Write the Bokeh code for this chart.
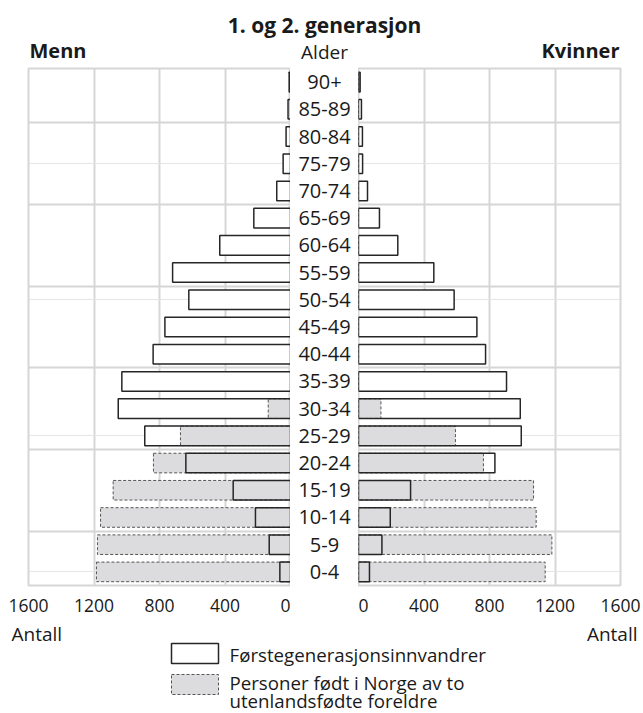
from bokeh.plotting import figure
from bokeh.models import Range1d, FixedTicker, Grid, ColumnDataSource
from bokeh.layouts import column, row
from bokeh.embed import file_html
from bokeh.resources import INLINE
from bokeh.core.properties import value

# ---------------- data ----------------
ages = ["0-4", "5-9", "10-14", "15-19", "20-24", "25-29", "30-34", "35-39",
        "40-44", "45-49", "50-54", "55-59", "60-64", "65-69", "70-74",
        "75-79", "80-84", "85-89", "90+"]
men_first = [65, 130, 214, 350, 639, 890, 1052, 1030, 839, 767, 621, 720,
             432, 224, 84, 45, 27, 15, 8]
men_second = [1185, 1179, 1160, 1083, 837, 672, 136, 0, 0, 0, 0, 0,
              0, 0, 0, 0, 0, 0, 0]
women_first = [67, 143, 194, 318, 833, 994, 988, 904, 776, 723, 584, 460,
               240, 128, 55, 25, 24, 18, 10]
women_second = [1140, 1181, 1085, 1069, 763, 592, 137, 0, 0, 0, 0, 0,
                0, 0, 0, 0, 0, 0, 0]
x_ticks = [0, 400, 800, 1200, 1600]
title_text = "1. og 2. generasjon"
left_head = "Menn"
mid_head = "Alder"
right_head = "Kvinner"
unit_label = "Antall"
legend_first = "Førstegenerasjonsinnvandrer"
legend_second = ["Personer født i Norge av to", "utenlandsfødte foreldre"]

# ---------------- style ----------------
FONT = "Open Sans"
TXT = "#1a1a1a"
GRID = "#d6d6d6"
GRAY = "#dcdcde"
OUT = "#262626"
DASH = "#555555"

idx = list(range(len(ages)))
src_m = ColumnDataSource(dict(y=idx, first=men_first, second=men_second))
src_w = ColumnDataSource(dict(y=idx, first=women_first, second=women_second))

y_range = Range1d(-0.5, len(ages) - 0.5)
boundaries = [i + 0.5 for i in range(len(ages) - 1) if (i - 1) % 3 == 0]

W = 643
HEAD_H = 66
ROW_H = 552          # 66 .. 618
B_TOP = 2            # frame top at 68
B_BOT = 33           # frame bottom at 585
FOOT_Y0 = HEAD_H + ROW_H
FOOT_H = 713 - FOOT_Y0
BAR_H = 0.72


def panel(src, xr, width, bl, br):
    p = figure(width=width, height=ROW_H, x_range=xr, y_range=y_range,
               y_axis_location=None, output_backend="svg",
               toolbar_location=None, min_border_left=bl, min_border_right=br,
               min_border_top=B_TOP, min_border_bottom=B_BOT)
    p.outline_line_color = GRID
    p.outline_line_width = 2
    p.background_fill_color = "white"
    p.border_fill_color = "white"
    p.xaxis.ticker = FixedTicker(ticks=x_ticks)
    p.xgrid.ticker = FixedTicker(ticks=x_ticks[1:-1])
    p.xgrid.grid_line_color = GRID
    p.xgrid.grid_line_width = 2
    p.add_layout(Grid(dimension=1, ticker=FixedTicker(ticks=boundaries),
                      grid_line_color=GRID, grid_line_width=2))
    ax = p.xaxis[0]
    ax.axis_line_color = None
    ax.major_tick_line_color = None
    ax.minor_tick_line_color = None
    ax.major_label_text_font = FONT
    ax.major_label_text_font_size = "17.5px"
    ax.major_label_text_color = TXT
    ax.major_label_standoff = 7
    # first generation fill, below
    p.hbar(y="y", left=0, right="first", height=BAR_H, source=src,
           fill_color="white", line_color=None)
    # second generation
    p.hbar(y="y", left=0, right="second", height=BAR_H, source=src,
           fill_color=GRAY, line_color=DASH, line_width=1, line_dash="3 2")
    # first generation outline, on top
    p.hbar(y="y", left=0, right="first", height=BAR_H, source=src,
           fill_color=None, line_color=OUT, line_width=1.5)
    return p


left = panel(src_m, Range1d(1600, 0), 290, 28, 0)
right = panel(src_w, Range1d(0, 1600), 285, 0, 23)

mid = figure(width=68, height=ROW_H, x_range=Range1d(-1, 1), y_range=y_range,
             x_axis_location=None, y_axis_location=None, output_backend="svg",
             toolbar_location=None, min_border_left=0, min_border_right=0,
             min_border_top=B_TOP, min_border_bottom=B_BOT)
mid.outline_line_color = None
mid.xgrid.visible = False
mid.ygrid.visible = False
mid.text(x=[0] * len(ages), y=idx, text=ages, text_align="center",
         text_baseline="middle", text_font=value(FONT),
         text_font_size="20px", text_color=TXT)


def strip(h, y0, y1):
    f = figure(width=W, height=h, x_range=Range1d(0, W),
               y_range=Range1d(y1, y0), x_axis_location=None,
               y_axis_location=None, output_backend="svg",
               toolbar_location=None, min_border=0)
    f.outline_line_color = None
    f.xgrid.visible = False
    f.ygrid.visible = False
    return f


head = strip(HEAD_H, 0, HEAD_H)
head.text(x=[324], y=[24], text=[title_text], text_align="center",
          text_baseline="middle", text_font=value(FONT),
          text_font_style="bold", text_font_size="21px", text_color=TXT)
head.text(x=[29], y=[50], text=[left_head], text_align="left",
          text_baseline="middle", text_font=value(FONT),
          text_font_style="bold", text_font_size="20px", text_color=TXT)
head.text(x=[324], y=[51], text=[mid_head], text_align="center",
          text_baseline="middle", text_font=value(FONT),
          text_font_size="19px", text_color=TXT)
head.text(x=[619], y=[50], text=[right_head], text_align="right",
          text_baseline="middle", text_font=value(FONT),
          text_font_style="bold", text_font_size="20px", text_color=TXT)

foot = strip(FOOT_H, FOOT_Y0, 713)
foot.text(x=[11], y=[633], text=[unit_label], text_align="left",
          text_baseline="middle", text_font=value(FONT),
          text_font_size="19px", text_color=TXT)
foot.text(x=[637], y=[633], text=[unit_label], text_align="right",
          text_baseline="middle", text_font=value(FONT),
          text_font_size="19px", text_color=TXT)
# legend swatches
foot.quad(left=[171], right=[218], top=[643], bottom=[663],
          fill_color="white", line_color=OUT, line_width=1.5)
foot.quad(left=[171], right=[218], top=[674], bottom=[694],
          fill_color=GRAY, line_color=DASH, line_width=1, line_dash="3 2")
foot.text(x=[229], y=[654], text=[legend_first], text_align="left",
          text_baseline="middle", text_font=value(FONT),
          text_font_size="18.7px", text_color=TXT)
foot.text(x=[229, 229], y=[682, 699.5], text=legend_second,
          text_align="left", text_baseline="middle", text_font=value(FONT),
          text_font_size="18.7px", text_color=TXT)

layout = column(head, row(left, mid, right), foot)
open("out.html", "w").write(file_html(layout, INLINE))
